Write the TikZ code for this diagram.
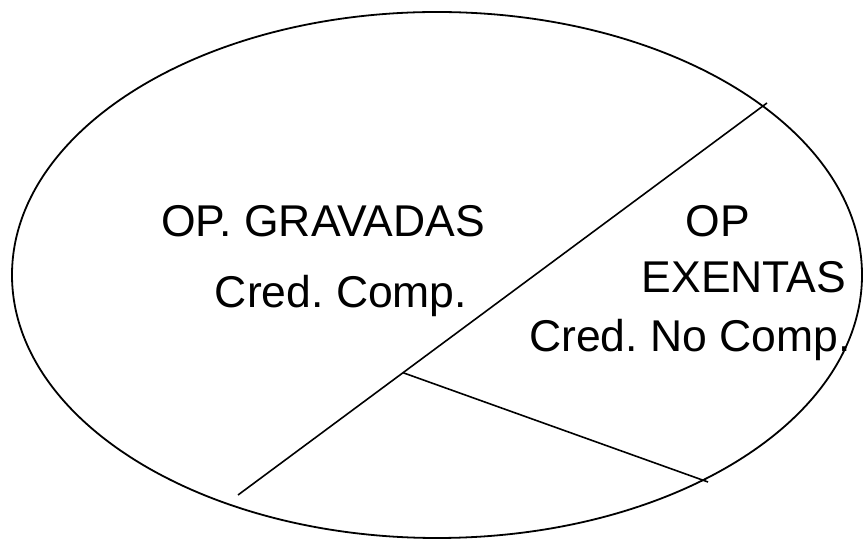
\documentclass[tikz,border=0pt]{standalone}
\usepackage{fontspec}
\setmainfont{Liberation Sans}
\frenchspacing
\begin{document}
\begin{tikzpicture}[x=1pt,y=1pt,
  lbl/.style={anchor=base,inner sep=0pt,font=\fontsize{44.5}{52}\selectfont},
  edge/.style={line width=1.6pt,black}]
\useasboundingbox (0,0) rectangle (864,540);
\draw[line width=1.8pt] (437,265) ellipse [x radius=425, y radius=263];
\coordinate (d1) at (238,45);
\coordinate (d2) at (767,437);
\coordinate (j) at (403,167.3);
\coordinate (e) at (708,58);
\draw[edge] (d1) -- (d2);
\draw[edge] (j) -- (e);
\node[lbl] (g1) at (323,303) {OP. GRAVADAS};
\node[lbl] (g2) at (341,232) {Cred. Comp.};
\node[lbl] (x1) at (718,303) {OP};
\node[lbl] (x2) at (744,247) {EXENTAS};
\node[lbl] (x3) at (690,188) {Cred. No Comp.};
\end{tikzpicture}
\end{document}
